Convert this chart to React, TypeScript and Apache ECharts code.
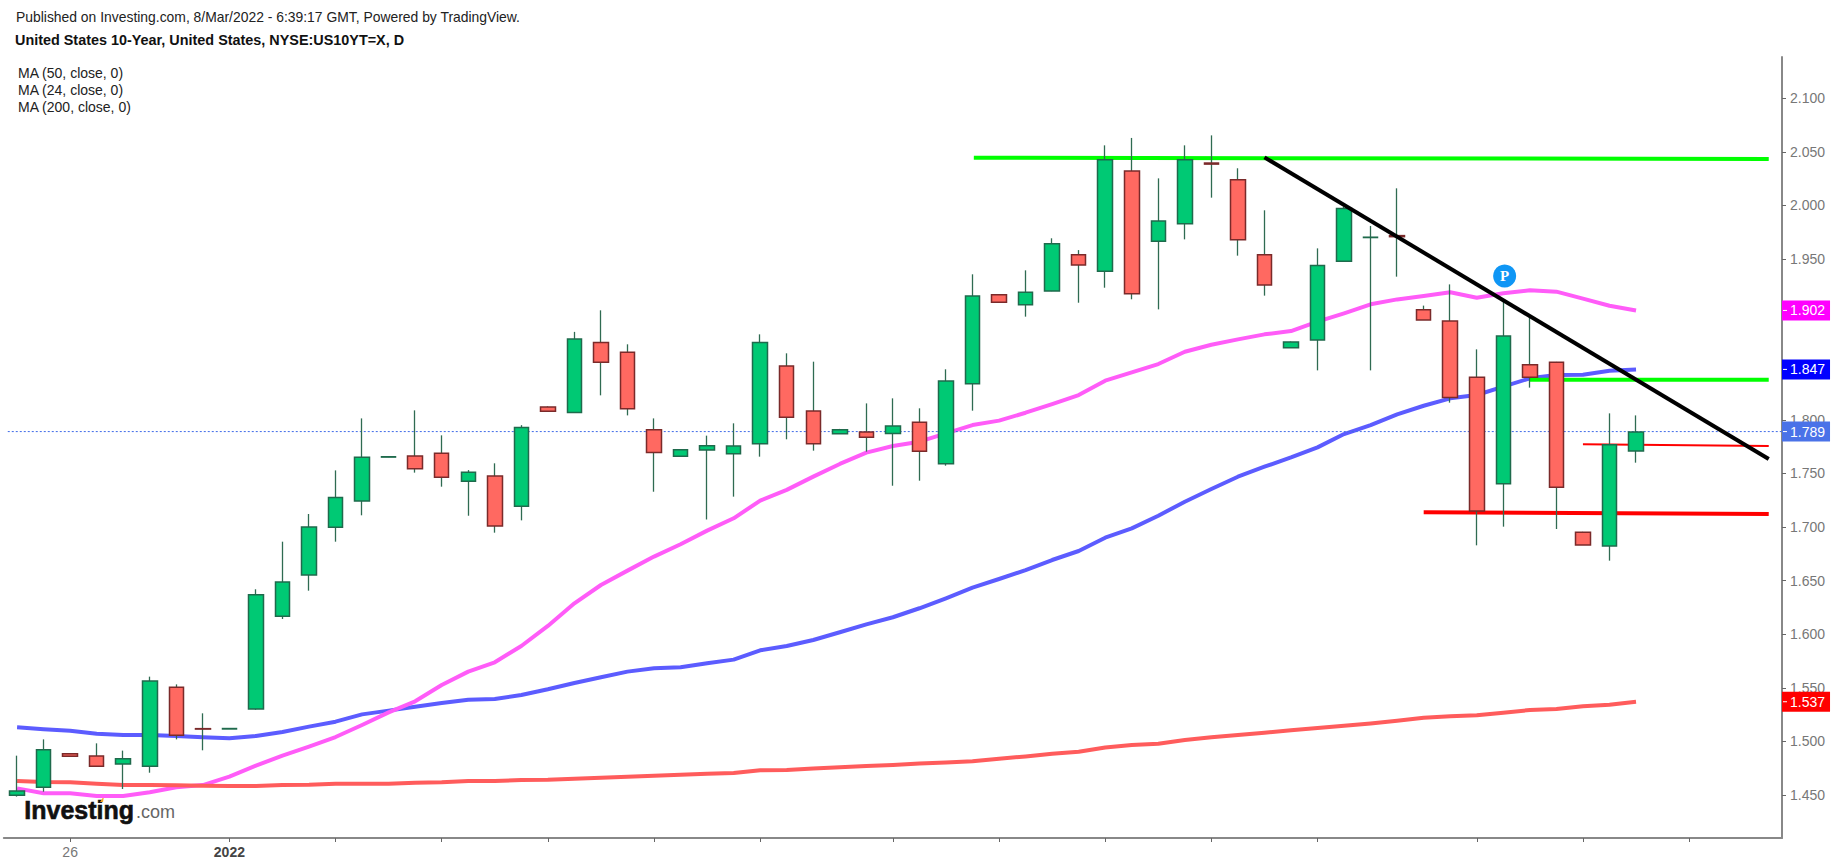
import React, { useEffect, useRef } from "react";
import * as echarts from "echarts";

const slotLabels: Record<number, string> = { 2: "26", 8: "2022" };
const tickSlots = [2, 8, 12, 16, 20, 24, 28, 33, 37, 41, 45, 49, 55, 59, 63];
const slotCount = 67;
const priceTicks = [1.45, 1.5, 1.55, 1.6, 1.65, 1.7, 1.75, 1.8, 1.85, 1.9, 1.95, 2.0, 2.05, 2.1];

const opens = [1.4497,1.4572,1.4886,1.4864,1.4789,1.4768,1.5504,1.5119,1.5116,1.5302,1.6167,1.6552,1.6997,1.7242,1.7652,1.7662,1.7687,1.7426,1.7475,1.7193,1.8119,1.8069,1.8722,1.8629,1.7908,1.7659,1.7718,1.7684,1.7777,1.8502,1.8082,1.787,1.7886,1.7873,1.7976,1.7591,1.8337,1.9167,1.9074,1.9201,1.954,1.9385,2.0321,1.9665,1.9829,2.0395,2.024,1.954,1.8673,1.8744,1.9478,1.97,1.9718,1.9027,1.8921,1.8396,1.7404,1.8514,1.8536,1.695,1.6823,1.7709];
const closes = [1.4537,1.4923,1.4861,1.4768,1.4839,1.5564,1.5057,1.5115,1.512,1.6369,1.6487,1.7,1.7276,1.765,1.7655,1.7544,1.7463,1.751,1.7009,1.7929,1.8079,1.8754,1.8536,1.8104,1.7696,1.7721,1.7758,1.7755,1.8722,1.8023,1.7777,1.7908,1.7836,1.7942,1.7706,1.8362,1.9155,1.9096,1.9189,1.9643,1.9444,2.0426,1.9176,1.9854,2.0426,2.0385,1.968,1.9257,1.8726,1.9438,1.9972,1.9703,1.9708,1.8931,1.8209,1.7149,1.8782,1.8396,1.737,1.6832,1.7768,1.7886];
const lows = [1.4485,1.4531,1.4858,1.4765,1.4556,1.4708,1.5019,1.4917,1.5116,1.5295,1.6142,1.6406,1.6863,1.7109,1.7652,1.7507,1.7376,1.7105,1.6947,1.7062,1.8079,1.8064,1.8228,1.8041,1.7329,1.7659,1.707,1.7283,1.7656,1.7818,1.7712,1.7868,1.7703,1.7385,1.7432,1.7572,1.8085,1.9096,1.8962,1.92,1.9092,1.9232,1.9124,1.903,1.9683,2.0072,1.9531,1.9158,1.8673,1.8461,1.9478,1.8461,1.9335,1.8931,1.816,1.6829,1.7003,1.83,1.6981,1.6832,1.6686,1.76];
const highs = [1.4867,1.5019,1.489,1.4982,1.4914,1.5604,1.5532,1.5262,1.512,1.6419,1.6863,1.7121,1.7528,1.8013,1.7655,1.8088,1.7855,1.7531,1.7594,1.795,1.8125,1.882,1.9021,1.8704,1.8013,1.7727,1.7852,1.7967,1.8797,1.862,1.8542,1.7915,1.8153,1.82,1.8107,1.8471,1.9357,1.9172,1.9394,1.9693,1.9583,2.056,2.0629,2.0252,2.056,2.0653,2.0346,1.9954,1.873,1.9599,1.9985,1.9808,2.0159,1.9065,1.9263,1.8657,1.9102,1.8977,1.854,1.6955,1.806,1.8041];

const ma50 = [1.5131,1.5113,1.51,1.5072,1.506,1.506,1.5051,1.5038,1.5029,1.5051,1.5088,1.5138,1.5184,1.5252,1.5287,1.5324,1.5358,1.5389,1.5396,1.5433,1.5486,1.5545,1.5598,1.5651,1.5682,1.5691,1.5729,1.5763,1.585,1.589,1.5946,1.6018,1.6092,1.6158,1.6242,1.6335,1.6434,1.6515,1.6598,1.6692,1.6776,1.69,1.6987,1.7105,1.7236,1.7354,1.7469,1.7562,1.7649,1.7743,1.7867,1.7951,1.8051,1.8131,1.82,1.8231,1.8309,1.8387,1.8418,1.8421,1.8458,1.847];
const ma24 = [1.4562,1.4516,1.4516,1.4491,1.4491,1.4525,1.4572,1.4593,1.4671,1.4774,1.4867,1.4951,1.5041,1.5153,1.5271,1.5374,1.5526,1.5651,1.5738,1.589,1.6077,1.6288,1.6459,1.6593,1.6724,1.6839,1.6966,1.7081,1.7246,1.7346,1.747,1.7588,1.7694,1.7756,1.7796,1.7873,1.7951,1.7992,1.8066,1.8147,1.8231,1.8365,1.8442,1.852,1.8635,1.87,1.875,1.8797,1.8828,1.8915,1.8993,1.9077,1.9123,1.9154,1.9189,1.9139,1.918,1.9208,1.9195,1.913,1.9064,1.902];
const ma200 = [1.463,1.4621,1.4618,1.4605,1.4593,1.4593,1.459,1.4587,1.4584,1.4584,1.4593,1.4596,1.4605,1.4605,1.4605,1.4615,1.4618,1.463,1.463,1.464,1.4643,1.4652,1.4661,1.4671,1.468,1.4689,1.4699,1.4705,1.473,1.4733,1.4748,1.4758,1.477,1.478,1.4795,1.4804,1.4814,1.4839,1.486,1.4885,1.4904,1.4944,1.4966,1.4979,1.5013,1.5038,1.5059,1.5081,1.5103,1.5125,1.5146,1.5168,1.5193,1.5221,1.5234,1.5243,1.5268,1.5293,1.5302,1.5327,1.5342,1.537];

const resistanceTop = [[36.05, 2.0445], [66.0, 2.0433]];
const resistanceLow = [[57, 1.8374], [66.0, 1.8374]];
const supportThick = [[53.0, 1.7137], [66.0, 1.7121]];
const supportThin = [[59, 1.7771], [66.0, 1.7755]];
const downTrend = [[47, 2.0448], [66.0, 1.7634]];
const lastPrice = 1.789;
const pivotMark = [56.05, 1.9341];
const priceTags = [
  { value: 1.902, color: "#ff00ff" },
  { value: 1.847, color: "#0000ff" },
  { value: 1.789, color: "#4a72e8" },
  { value: 1.537, color: "#ff0000" },
];

const FONT = "'Liberation Sans', Arial, sans-serif";

export default function App() {
  const ref = useRef<HTMLDivElement>(null);
  useEffect(() => {
    const chart = echarts.init(ref.current!, undefined, { renderer: "svg" });
    const categories = Array.from({ length: slotCount }, (_, i) => slotLabels[i] ?? "");
    const wicks = opens.map((o, i) => [o, closes[i], lows[i], highs[i]]);
    const bodies = opens.map((o, i) => [o, closes[i], Math.min(o, closes[i]), Math.max(o, closes[i])]);
    const maLine = (name: string, data: number[], color: string) => ({
      name, type: "line", data, showSymbol: false, z: 2, silent: true,
      lineStyle: { color, width: 4, cap: "butt", join: "round" },
    });
    const drawn = (name: string, data: number[][], color: string, width: number, z: number) => ({
      name, type: "line", xAxisIndex: 1, data, showSymbol: false, z, silent: true,
      lineStyle: { color, width, cap: "butt" },
    });
    chart.setOption({
      animation: false,
      backgroundColor: "#ffffff",
      textStyle: { fontFamily: FONT },
      grid: { left: 3.8, right: 55, top: 57, bottom: 28, containLabel: false },
      xAxis: [
        {
          type: "category", data: categories, boundaryGap: true,
          axisLine: { onZero: false, lineStyle: { color: "#888888", width: 2 } },
          axisTick: { show: true, alignWithLabel: true, length: 4, lineStyle: { color: "#666666", width: 1 },
            interval: (i: number) => tickSlots.includes(i) },
          axisLabel: { interval: (i: number) => slotLabels[i] !== undefined, margin: 7, fontSize: 14, color: "#777777", fontFamily: FONT,
            formatter: (v: string) => (v === "2022" ? "{b|2022}" : v),
            rich: { b: { fontWeight: "bold", color: "#444444", fontSize: 14, fontFamily: FONT } } },
          splitLine: { show: false },
        },
        { type: "value", min: -0.5, max: 66.5, show: false, splitLine: { show: false } },
      ],
      yAxis: {
        type: "value", position: "right", min: 1.4099, max: 2.1384, scale: true,
        axisLine: { show: true, onZero: false, lineStyle: { color: "#888888", width: 2 } },
        axisTick: { show: true, length: 4, customValues: priceTicks, lineStyle: { color: "#666666", width: 1 } },
        axisLabel: { customValues: priceTicks, margin: 8, fontSize: 14, color: "#777777", fontFamily: FONT,
          formatter: (v: number) => v.toFixed(3) },
        splitLine: { show: false },
      },
      series: [
        maLine("MA (50, close, 0)", ma50, "#5c5cff"),
        maLine("MA (24, close, 0)", ma24, "#ff5cf8"),
        maLine("MA (200, close, 0)", ma200, "#ff5c5c"),
        { name: "Last", type: "line", xAxisIndex: 1, showSymbol: false, z: 3, silent: true,
          data: [[-0.35, lastPrice], [66.5, lastPrice]],
          lineStyle: { color: "#3f6be8", width: 1, type: [2, 2] } },
        drawn("Resistance top", resistanceTop, "#00ff00", 4, 3),
        drawn("Resistance low", resistanceLow, "#00ff00", 4, 3),
        drawn("Support thick", supportThick, "#ff0000", 4, 3),
        drawn("Support thin", supportThin, "#ff0000", 2, 3),
        {
          name: "US10YT wicks", type: "candlestick", data: wicks, barWidth: 1, z: 4, silent: true,
          itemStyle: { color: "#2f6b52", color0: "#2f6b52", borderColor: "#2f6b52", borderColor0: "#2f6b52", borderWidth: 1.3 },
        },
        {
          name: "US10YT", type: "candlestick", data: bodies, barWidth: 15, z: 5, silent: true,
          itemStyle: { color: "#00c974", color0: "#ff6961", borderColor: "#1f6a4c", borderColor0: "#7a2a2a", borderWidth: 1.5 },
        },
        drawn("Trend", downTrend, "#000000", 4, 6),
        {
          name: "Pivot", type: "scatter", xAxisIndex: 1, data: [pivotMark], symbolSize: 23, z: 7, clip: false, silent: true,
          itemStyle: { color: "#0f96f5", opacity: 1 },
          label: { show: true, position: "inside", formatter: "P", color: "#ffffff", fontWeight: "bold", fontSize: 15, fontFamily: "'Liberation Serif', serif" },
        },
        ...priceTags.map((t) => ({
          name: "Tag " + t.value, type: "scatter", xAxisIndex: 1, data: [[66.5, t.value]], symbolSize: 0, z: 8, clip: false, silent: true,
          itemStyle: { opacity: 1 },
          label: { show: true, position: "right", distance: 0, formatter: t.value.toFixed(3), color: "#ffffff", fontSize: 14, fontFamily: FONT,
            backgroundColor: t.color, padding: [3, 5, 3, 8], lineHeight: 14 },
        })),
        {
          name: "Tag ticks", type: "scatter", xAxisIndex: 1, data: priceTags.map((t) => [66.5, t.value]), symbol: "rect", symbolSize: [4, 1], symbolOffset: [3, 0], z: 9, clip: false, silent: true,
          itemStyle: { color: "#ffffff", opacity: 1 },
        },
      ],
      graphic: [
        { type: "text", left: 16, top: 10, style: { text: "Published on Investing.com, 8/Mar/2022 - 6:39:17 GMT, Powered by TradingView.", font: `13.9px ${FONT}`, fill: "#222222" } },
        { type: "text", left: 15, top: 33, style: { text: "United States 10-Year, United States, NYSE:US10YT=X, D", font: `bold 14.4px ${FONT}`, fill: "#111111" } },
        { type: "text", left: 18, top: 66, style: { text: "MA (50, close, 0)", font: `14px ${FONT}`, fill: "#222222" } },
        { type: "text", left: 18, top: 83, style: { text: "MA (24, close, 0)", font: `14px ${FONT}`, fill: "#222222" } },
        { type: "text", left: 18, top: 100, style: { text: "MA (200, close, 0)", font: `14px ${FONT}`, fill: "#222222" } },
        { type: "text", left: 24, top: 797, style: { text: "Investing", font: `bold 25px ${FONT}`, fill: "#111111", stroke: "#111111", lineWidth: 0.6 } },
        { type: "text", left: 136, top: 803, style: { text: ".com", font: `18px ${FONT}`, fill: "#666666" } },
        { type: "polygon", shape: { points: [[100, 802], [104, 796], [103, 802]] }, style: { fill: "#f5a623" } },
      ],
    });
    return () => chart.dispose();
  }, []);
  return <div ref={ref} style={{ position: "fixed", left: 0, top: 0, width: 1837, height: 866, background: "#fff" }} />;
}
